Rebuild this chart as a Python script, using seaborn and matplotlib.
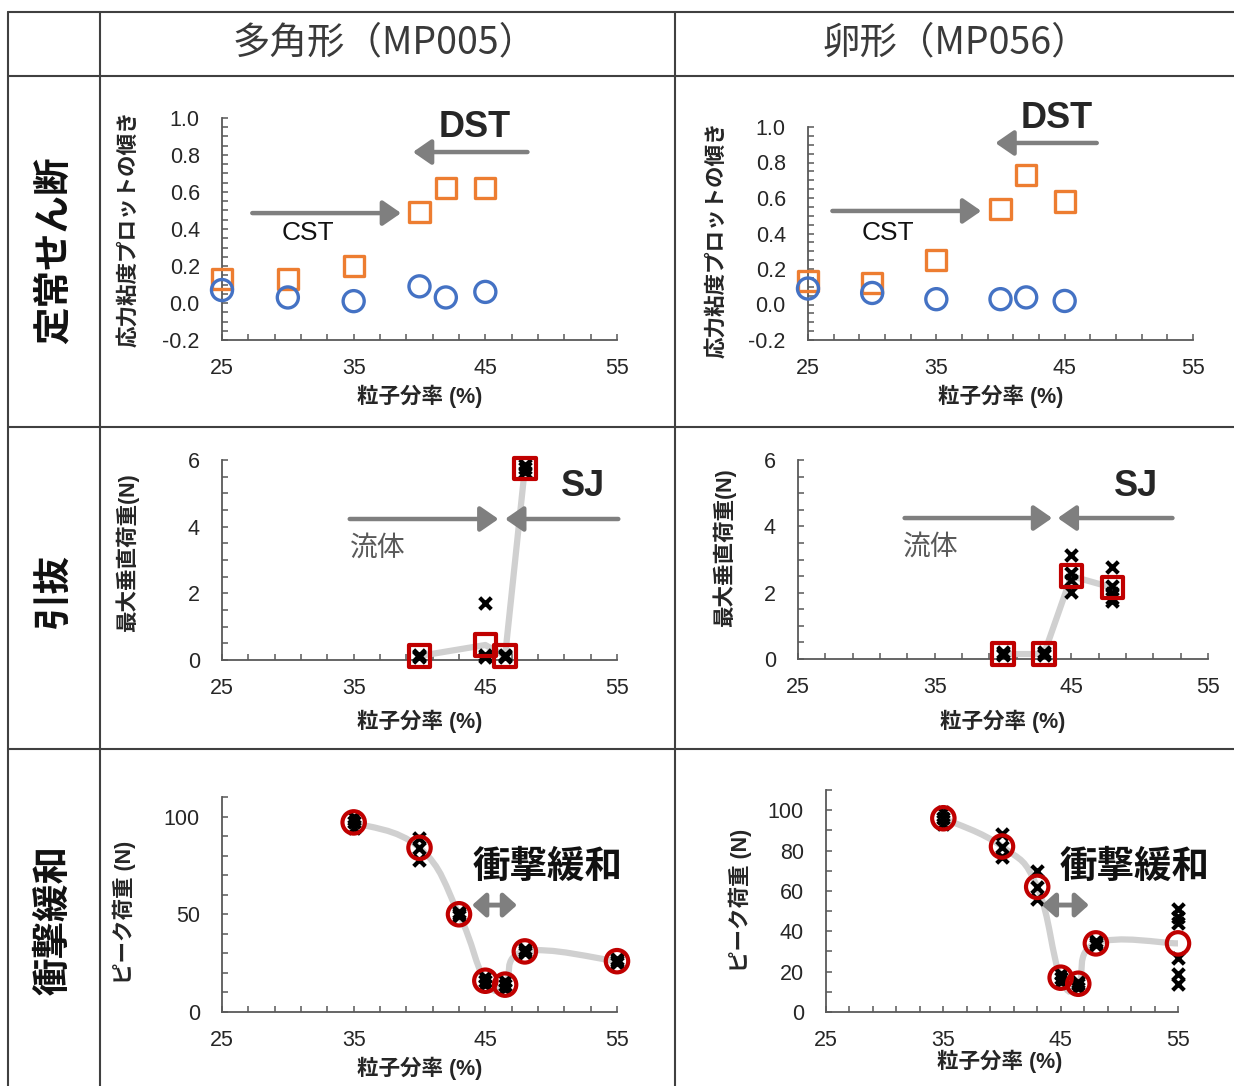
import numpy as np
import seaborn as sns
import matplotlib
matplotlib.use("Agg")
import matplotlib.pyplot as plt
from matplotlib.lines import Line2D
from matplotlib.path import Path
from matplotlib.patches import PathPatch

# --- 定常せん断 (steady shear) ---
shear_x = [25, 30, 35, 40, 42, 45]
mp005_square = [0.13, 0.13, 0.20, 0.49, 0.62, 0.62]
mp005_circle = [0.07, 0.03, 0.01, 0.09, 0.03, 0.06]
mp056_square = [0.13, 0.12, 0.25, 0.54, 0.73, 0.58]
mp056_circle = [0.09, 0.065, 0.03, 0.03, 0.04, 0.02]

# --- 引抜 (pull-out) ---
pull005_x = [40, 45, 46.5, 48]
pull005_mean = [0.12, 0.45, 0.12, 5.75]
pull005_raw_x = [40, 40, 40, 45, 45, 45, 46.5, 46.5, 46.5, 48, 48, 48]
pull005_raw_y = [0.10, 0.12, 0.15, 1.70, 0.15, 0.10, 0.10, 0.12, 0.15, 5.65, 5.75, 5.85]

pull056_x = [40, 43, 45, 48]
pull056_mean = [0.15, 0.15, 2.50, 2.15]
pull056_raw_x = [40, 40, 40, 43, 43, 43, 45, 45, 45, 45, 48, 48, 48, 48, 48]
pull056_raw_y = [0.12, 0.15, 0.20, 0.12, 0.15, 0.20, 3.13, 2.59, 2.38, 2.02,
                 2.77, 2.20, 2.00, 1.85, 1.75]

# --- 衝撃緩和 (impact) ---
imp005_x = [35, 40, 43, 45, 46.5, 48, 55]
imp005_mean = [97, 84, 50, 16, 14, 31, 26]
imp005_raw_x = [35, 35, 35, 40, 40, 40, 43, 43, 43, 45, 45, 45,
                46.5, 46.5, 46.5, 48, 48, 48, 55, 55, 55]
imp005_raw_y = [94, 97, 100, 89, 84, 78, 49, 50, 51, 14, 16, 18,
                12, 14, 16, 30, 31, 32, 25, 26, 27]

imp056_x = [35, 40, 43, 45, 46.5, 48, 55]
imp056_mean = [96, 82, 62, 17, 14, 34, 34]
imp056_raw_x = [35, 35, 35, 40, 40, 40, 43, 43, 43, 45, 45, 45,
                46.5, 46.5, 46.5, 48, 48, 48, 55, 55, 55, 55, 55, 55]
imp056_raw_y = [93, 96, 99, 88, 82, 77, 70, 62, 56, 15, 17, 19,
                12, 14, 15, 33, 34, 35, 51, 47, 44, 27, 19, 14]

col_titles = ["多角形（MP005）", "卵形（MP056）"]
row_titles = ["定常せん断", "引抜", "衝撃緩和"]
xlabel = "粒子分率 (%)"

ORANGE = "#ED7D31"
BLUE = "#4472C4"
RED = "#C00000"
ARROW = "#7F7F7F"
LINE = "#D0D0D0"

sns.set_theme(style="white")
plt.rcParams["font.family"] = ["Liberation Sans", "Noto Sans CJK JP"]

W, H = 1234, 1086
fig = plt.figure(figsize=(W / 100, H / 100), dpi=100)


def px_axes(x0, x1, y_top, y_bot):
    return fig.add_axes([x0 / W, 1 - y_bot / H, (x1 - x0) / W, (y_bot - y_top) / H])


def style_axes(ax, ylim, ymajor, yminor, ylab, ylab_pos, xlab_pos):
    ax.set_xlim(25, 55)
    ax.set_ylim(*ylim)
    ax.set_xticks([25, 35, 45, 55])
    ax.set_xticks(np.arange(25, 56, 2), minor=True)
    ax.set_yticks(ymajor)
    ax.set_yticks(yminor, minor=True)
    for s in ["top", "right"]:
        ax.spines[s].set_visible(False)
    for s in ["left", "bottom"]:
        ax.spines[s].set_color("#595959")
        ax.spines[s].set_linewidth(1.3)
    ax.tick_params(which="both", direction="in", length=4.5, width=1.1,
                   color="#595959", left=True, bottom=True)
    ax.tick_params(axis="x", which="major", pad=13, labelsize=15.5, labelcolor="#262626")
    ax.tick_params(axis="y", which="major", pad=16, labelsize=15.5, labelcolor="#262626")
    ax.set_xlabel(xlabel, fontsize=15.5, fontweight="bold", color="#262626")
    ax.set_ylabel(ylab, fontsize=15.5, fontweight="bold", color="#262626")
    ax.xaxis.set_label_coords(*xlab_pos)
    ax.yaxis.set_label_coords(*ylab_pos)
    ax.patch.set_alpha(0)


def arrow(ax, start, end, style="-|>", lw=3.2, hl=0.55, hw=0.38):
    ax.annotate("", xy=end, xytext=start, annotation_clip=False,
                arrowprops=dict(arrowstyle=f"{style},head_length={hl},head_width={hw}",
                                color=ARROW, lw=lw, shrinkA=0, shrinkB=0,
                                mutation_scale=20))


def smooth_line(ax, xs, ys, k=0.22):
    # Excel-like smoothed line: cubic Bezier segments through the points
    pts = np.column_stack([xs, ys]).astype(float)
    ext = np.vstack([pts[0], pts, pts[-1]])
    verts, codes = [pts[0]], [Path.MOVETO]
    for i in range(len(pts) - 1):
        p0, p1, p2, p3 = ext[i], ext[i + 1], ext[i + 2], ext[i + 3]
        verts += [p1 + (p2 - p0) * k, p2 - (p3 - p1) * k, p2]
        codes += [Path.CURVE4] * 3
    ax.add_patch(PathPatch(Path(verts, codes), fill=False, edgecolor=LINE,
                           lw=4.5, capstyle="round", zorder=1))


# ---------------- table grid ----------------
def hline(y, x0=8, x1=W):
    fig.add_artist(Line2D([x0 / W, x1 / W], [1 - y / H, 1 - y / H],
                          transform=fig.transFigure, color="#404040", lw=1.5))


def vline(x, y0=12, y1=H):
    fig.add_artist(Line2D([x / W, x / W], [1 - y0 / H, 1 - y1 / H],
                          transform=fig.transFigure, color="#404040", lw=1.5))


for y in [12, 76, 427, 749]:
    hline(y)
for x in [8, 100, 675]:
    vline(x)

fig.text(385 / W, 1 - 43 / H, col_titles[0], fontsize=27, color="#3a3a3a",
         ha="center", va="center", family=["Noto Sans CJK JP"])
fig.text(956 / W, 1 - 43 / H, col_titles[1], fontsize=27, color="#3a3a3a",
         ha="center", va="center", family=["Noto Sans CJK JP"])
for yc, t in zip([250, 590, 920], row_titles):
    fig.text(55 / W, 1 - yc / H, t, fontsize=27, fontweight="bold", rotation=90,
             ha="center", va="center", color="#111111")

# ---------------- row 1: steady shear ----------------
ylab1 = "応力粘度プロットの傾き"
shear_sets = [
    (px_axes(222, 617, 118, 340), mp005_square, mp005_circle,
     (-0.21, 0.5), (0.5, -0.2),
     dict(cst=((27.3, 0.486), (38.6, 0.486)), dst=((48.2, 0.816), (39.5, 0.816)),
          dst_t=(44.2, 0.946), cst_t=(31.5, 0.378))),
    (px_axes(808, 1193, 127, 340), mp056_square, mp056_circle,
     (-0.21, 0.47), (0.5, -0.21),
     dict(cst=((26.9, 0.527), (38.5, 0.527)), dst=((47.5, 0.91), (39.6, 0.91)),
          dst_t=(44.4, 1.05), cst_t=(31.2, 0.40))),
]
for ax, sq, ci, ylp, xlp, ann in shear_sets:
    sns.scatterplot(x=shear_x, y=sq, ax=ax, marker="s", s=210, color="none",
                    edgecolor=ORANGE, linewidth=2.4, clip_on=False, zorder=3)
    sns.scatterplot(x=shear_x, y=ci, ax=ax, marker="o", s=230, color="none",
                    edgecolor=BLUE, linewidth=2.4, clip_on=False, zorder=3)
    style_axes(ax, (-0.2, 1.0), [-0.2, 0.0, 0.2, 0.4, 0.6, 0.8, 1.0],
               np.arange(-0.2, 1.01, 0.05), ylab1, ylp, xlp)
    ax.yaxis.set_major_formatter(matplotlib.ticker.FormatStrFormatter("%.1f"))
    arrow(ax, *ann["cst"])
    arrow(ax, *ann["dst"])
    ax.text(*ann["dst_t"], "DST", fontsize=26, fontweight="bold", ha="center", va="center")
    ax.text(*ann["cst_t"], "CST", fontsize=19, ha="center", va="center", color="#111111")

# ---------------- row 2: pull-out ----------------
ylab2 = "最大垂直荷重(N)"
pull_sets = [
    (px_axes(222, 617, 460, 660), pull005_x, pull005_mean, pull005_raw_x, pull005_raw_y,
     (-0.21, 0.535), (0.5, -0.25),
     dict(fl=((34.7, 4.23), (46.0, 4.23)), sj=((55.1, 4.23), (46.5, 4.23)),
          sj_t=(52.4, 5.19), fl_t=(36.8, 3.33))),
    (px_axes(798, 1208, 460, 659), pull056_x, pull056_mean, pull056_raw_x, pull056_raw_y,
     (-0.15, 0.56), (0.5, -0.255),
     dict(fl=((32.8, 4.25), (43.6, 4.25)), sj=((52.4, 4.25), (44.0, 4.25)),
          sj_t=(49.7, 5.19), fl_t=(34.7, 3.35))),
]
for ax, mx, my, rx, ry, ylp, xlp, ann in pull_sets:
    sns.lineplot(x=mx, y=my, ax=ax, color=LINE, lw=4.5, errorbar=None, zorder=1)
    sns.scatterplot(x=rx, y=ry, ax=ax, marker="x", s=70, color="black",
                    linewidth=3, clip_on=False, zorder=3)
    sns.scatterplot(x=mx, y=my, ax=ax, marker="s", s=240, color="none",
                    edgecolor=RED, linewidth=3, clip_on=False, zorder=4)
    style_axes(ax, (0, 6), [0, 2, 4, 6], np.arange(0, 6.01, 0.5), ylab2, ylp, xlp)
    arrow(ax, *ann["fl"])
    arrow(ax, *ann["sj"])
    ax.text(*ann["sj_t"], "SJ", fontsize=26, fontweight="bold", ha="center", va="center")
    ax.text(*ann["fl_t"], "流体", fontsize=20, ha="center", va="center", color="#595959")

# ---------------- row 3: impact ----------------
ylab3 = "ピーク荷重 (N)"
imp_sets = [
    (px_axes(222, 617, 797, 1012), imp005_x, imp005_mean, imp005_raw_x, imp005_raw_y,
     [0, 50, 100], (-0.218, 0.465), (0.5, -0.21),
     dict(da=((44.0, 54.7), (47.4, 54.7)), t=(49.75, 73.7))),
    (px_axes(826, 1178, 790, 1012), imp056_x, imp056_mean, imp056_raw_x, imp056_raw_y,
     [0, 20, 40, 60, 80, 100], (-0.21, 0.505), (0.494, -0.17),
     dict(da=((43.4, 53.0), (47.4, 53.0)), t=(51.3, 71.3))),
]
for ax, mx, my, rx, ry, ymaj, ylp, xlp, ann in imp_sets:
    smooth_line(ax, mx, my)
    sns.scatterplot(x=rx, y=ry, ax=ax, marker="x", s=70, color="black",
                    linewidth=3, clip_on=False, zorder=3)
    sns.scatterplot(x=mx, y=my, ax=ax, marker="o", s=260, color="none",
                    edgecolor=RED, linewidth=3, clip_on=False, zorder=4)
    style_axes(ax, (0, 110), ymaj, np.arange(0, 111, 10), ylab3, ylp, xlp)
    arrow(ax, *ann["da"], style="<|-|>", lw=3.5, hl=0.4, hw=0.36)
    ax.text(*ann["t"], "衝撃緩和", fontsize=27, fontweight="bold", ha="center",
            va="center", color="#111111")

fig.savefig("out.png", dpi=100)
